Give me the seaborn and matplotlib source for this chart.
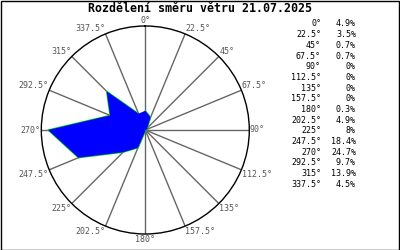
import numpy as np
import matplotlib
matplotlib.use("Agg")
import matplotlib.pyplot as plt
import seaborn as sns
import pandas as pd
from matplotlib.patches import Rectangle

directions = [0, 22.5, 45, 67.5, 90, 112.5, 135, 157.5, 180, 202.5, 225, 247.5, 270, 292.5, 315, 337.5]
percent = [4.9, 3.5, 0.7, 0.7, 0, 0, 0, 0, 0.3, 4.9, 8, 18.4, 24.7, 9.7, 13.9, 4.5]
title = "Rozdělení směru větru 21.07.2025"

sns.set_style("white")
plt.rcParams['font.family'] = ['DejaVu Sans Mono', 'DejaVu Sans']

W, H = 400, 250
fig = plt.figure(figsize=(W / 100, H / 100), dpi=100)
fig.patch.set_facecolor("white")

cx, cy, R = 145.3, 130, 104
ax = fig.add_axes([(cx - R) / W, (H - cy - R) / H, 2 * R / W, 2 * R / H], projection="polar")
ax.set_theta_zero_location("N")
ax.set_theta_direction(-1)
rmax = max(percent) * 1.07
ax.set_ylim(0, rmax)
ax.grid(False)
ax.set_xticks([])
ax.set_yticks([])
ax.spines["polar"].set_color("black")
ax.spines["polar"].set_linewidth(1.0)

theta = np.deg2rad(directions)

# spokes
for th in theta:
    ax.plot([th, th], [0, rmax], color="#666666", lw=1.0, zorder=1)

df = pd.DataFrame({"theta": np.append(theta, theta[0]), "r": percent + [percent[0]]})
sns.lineplot(data=df, x="theta", y="r", sort=False, ax=ax, color="#00dd00", lw=1.0, zorder=2)
ax.fill(df["theta"], df["r"], color="#0000ff", lw=0, zorder=3)
ax.set_xlabel("")
ax.set_ylabel("")

# spoke labels
for d, th in zip(directions, theta):
    s, c = np.sin(th), np.cos(th)
    ha = "left" if s > 0.01 else ("right" if s < -0.01 else "center")
    va = "bottom" if c > 0.01 else ("top" if c < -0.01 else "center")
    ax.text(th, rmax * 1.005, f"{d:g}°", ha=ha, va=va, fontsize=6, color="#555555", zorder=5)

# list on the right
y0, dy = 24, 10.67
for i, (d, p) in enumerate(zip(directions, percent)):
    y = 1 - (y0 + i * dy) / H
    fig.text(321 / W, y, f"{d:g}°", ha="right", va="center", fontsize=6, color="black")
    fig.text(356 / W, y, f"{p:g}%", ha="right", va="center", fontsize=6, color="black")

fig.text(0.5, 1 - 9 / H, title, ha="center", va="center", fontsize=8.4, fontweight="bold", color="black")

fig.add_artist(Rectangle((0.5 / W, 0.5 / H), 1 - 1.5 / W, 1 - 1.5 / H, transform=fig.transFigure,
                         fill=False, edgecolor="black", lw=1.0))

fig.savefig("out.png", dpi=100)
